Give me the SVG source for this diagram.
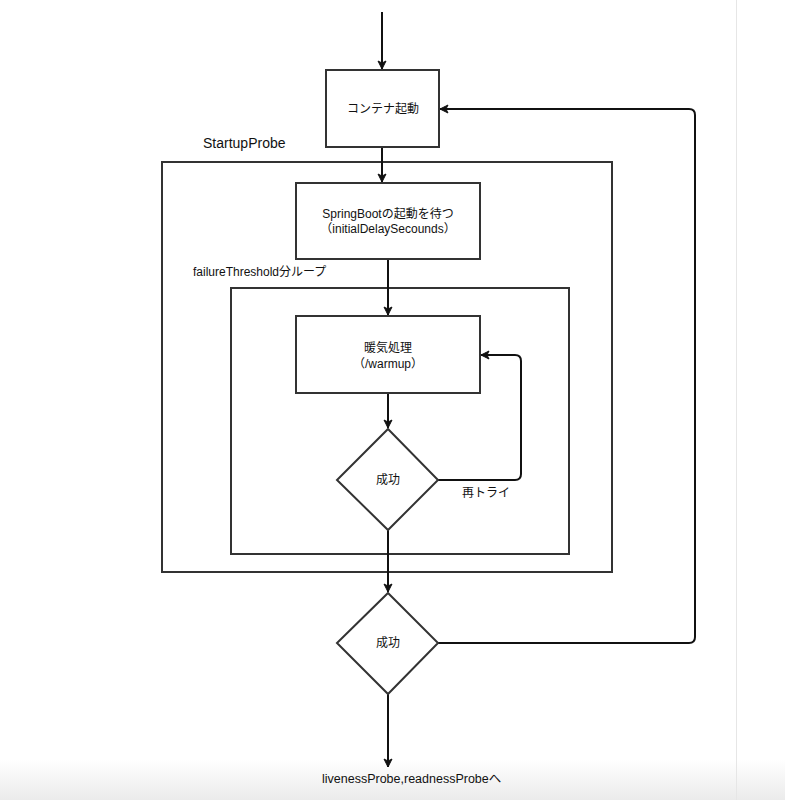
<svg xmlns="http://www.w3.org/2000/svg" width="785" height="800" viewBox="0 0 785 800">
<defs>
<linearGradient id="bottomShade" x1="0" y1="0" x2="0" y2="1">
<stop offset="0" stop-color="#ffffff"/>
<stop offset="1" stop-color="#ebebeb"/>
</linearGradient>
<marker id="arrow" markerWidth="10" markerHeight="10" refX="9" refY="5" orient="auto" markerUnits="userSpaceOnUse">
<path d="M1,1 L9,5 L1,9 L3,5 z" fill="#111" stroke="#111" stroke-width="1" stroke-linejoin="miter"/>
</marker>
<style>
.box{fill:#fff;stroke:#333;stroke-width:2}
.frame{fill:none;stroke:#333;stroke-width:2}
.edge{fill:none;stroke:#111;stroke-width:2}
text{font-family:"Liberation Sans","Noto Sans CJK JP",sans-serif;font-size:12px;fill:#111}
.lbl{font-size:14px}
.c{text-anchor:middle;dominant-baseline:central}
</style>
</defs>
<rect x="0" y="0" width="785" height="800" fill="#fff"/>
<rect x="0" y="760" width="785" height="40" fill="url(#bottomShade)"/>
<line x1="736.5" y1="0" x2="736.5" y2="800" stroke="#e6e6e6" stroke-width="1"/>

<g id="startupProbe">
<rect class="frame" x="162" y="162" width="450" height="410"/>
<text class="lbl" x="203" y="148">StartupProbe</text>
</g>
<g id="failureLoop">
<rect class="frame" x="231" y="288" width="338" height="266"/>
<text x="193" y="276">failureThreshold分ループ</text>
</g>

<g id="connectors">
<line class="edge" x1="382" y1="12" x2="382" y2="69" marker-end="url(#arrow)"/>
<line class="edge" x1="382" y1="147" x2="382" y2="182" marker-end="url(#arrow)"/>
<line class="edge" x1="388" y1="259" x2="388" y2="315" marker-end="url(#arrow)"/>
<line class="edge" x1="388" y1="393" x2="388" y2="428" marker-end="url(#arrow)"/>
<path class="edge" d="M438,480 L515,480 Q521,480 521,474 L521,361 Q521,355 515,355 L481,355" marker-end="url(#arrow)"/>
<line class="edge" x1="388" y1="530" x2="388" y2="592" marker-end="url(#arrow)"/>
<path class="edge" d="M438,643 L689,643 Q695,643 695,637 L695,115 Q695,109 689,109 L440,109" marker-end="url(#arrow)"/>
<line class="edge" x1="388" y1="694" x2="388" y2="767" marker-end="url(#arrow)"/>
<text x="462" y="497">再トライ</text>
</g>

<g id="containerStart">
<rect class="box" x="326" y="70" width="113" height="77"/>
<text class="c" x="383" y="109">コンテナ起動</text>
</g>
<g id="waitSpringBoot">
<rect class="box" x="296" y="183" width="184" height="76"/>
<text class="c" x="388" y="214">SpringBootの起動を待つ</text>
<text class="c" x="388" y="229">（initialDelaySecounds）</text>
</g>
<g id="warmup">
<rect class="box" x="296" y="316" width="184" height="77"/>
<text class="c" x="388" y="348">暖気処理</text>
<text class="c" x="388" y="364">（/warmup）</text>
</g>
<g id="success1">
<polygon class="box" points="388,429 438,480 388,530 337,480"/>
<text class="c" x="388" y="480">成功</text>
</g>
<g id="success2">
<polygon class="box" points="388,593 438,643 388,694 337,643"/>
<text class="c" x="388" y="643">成功</text>
</g>
<g id="next">
<text x="322" y="783" style="font-size:12.5px">livenessProbe,readnessProbeへ</text>
</g>
</svg>
